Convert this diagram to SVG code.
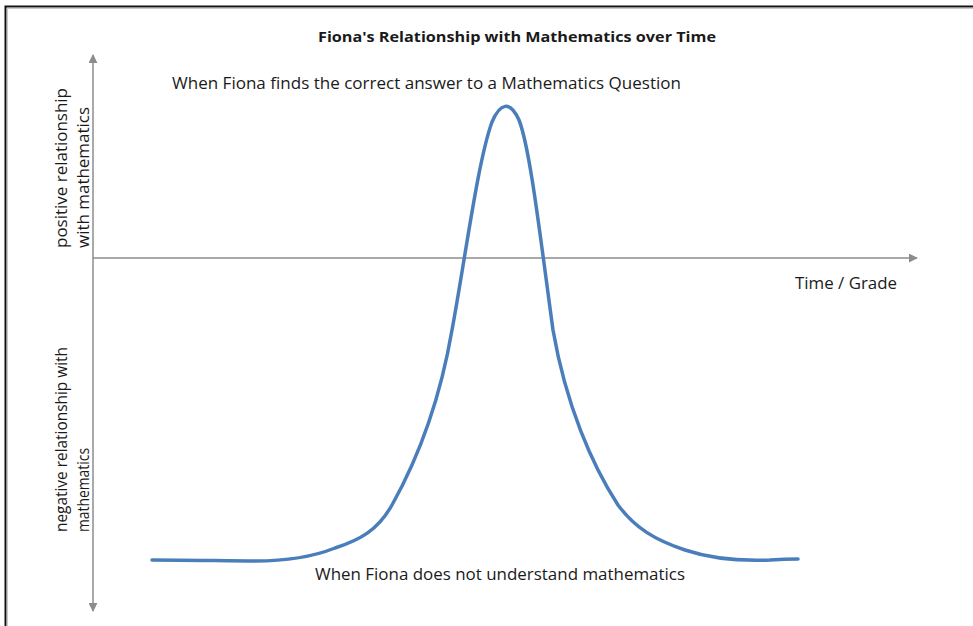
<svg xmlns="http://www.w3.org/2000/svg" width="973" height="626" viewBox="0 0 973 626">
<style>
.t{font-family:"Open Sans","Liberation Sans",sans-serif;fill:#1a1a1a}
.ax{stroke:#8c8c8c;stroke-width:1.5;fill:none}
</style>
<defs>
<marker id="ah" viewBox="0 0 10 10" refX="9" refY="5" markerWidth="9" markerHeight="9" markerUnits="userSpaceOnUse" orient="auto"><path d="M0,0 L10,5 L0,10 Z" fill="#8c8c8c"/></marker>
</defs>
<rect width="973" height="626" fill="#fff"/>
<path d="M973,6.5 H5.5 V626" fill="none" stroke="#111" stroke-width="2"/>
<path d="M973,8.3 H7.3 V626" fill="none" stroke="#bbb" stroke-width="1"/>
<g id="connectors">
<line class="ax" x1="93" y1="258" x2="93" y2="55" marker-end="url(#ah)"/>
<line class="ax" x1="93" y1="258" x2="93" y2="611" marker-end="url(#ah)"/>
<line class="ax" x1="93" y1="258" x2="917" y2="258" marker-end="url(#ah)"/>
</g>
<g id="curve">
<path d="M152,560 C190,560 230,561 255,561 C290,561 315,556 335,548 C360,540 378,530 392,505 C420,455 440,400 452,330 C465,260 478,160 492,122 C500,103 510,100 519,120 C530,148 540,235 553,330 C566,405 592,465 618,505 C635,528 655,540 685,550 C712,559 745,561 770,560 C785,559 795,559 798,559" fill="none" stroke="#4a7ebb" stroke-width="3.5" stroke-linecap="round" stroke-linejoin="round"/>
</g>
<g id="title"><text class="t" x="318" y="42" font-size="14" font-weight="bold" textLength="398" lengthAdjust="spacingAndGlyphs">Fiona's Relationship with Mathematics over Time</text></g>
<g id="label-top"><text class="t" x="172" y="89" font-size="15.5" textLength="509" lengthAdjust="spacingAndGlyphs">When Fiona finds the correct answer to a Mathematics Question</text></g>
<g id="label-bottom"><text class="t" x="315" y="580" font-size="15.5" textLength="370" lengthAdjust="spacingAndGlyphs">When Fiona does not understand mathematics</text></g>
<g id="label-x"><text class="t" x="795" y="289" font-size="15.5" textLength="102" lengthAdjust="spacingAndGlyphs">Time / Grade</text></g>
<g id="label-pos">
<text class="t" transform="translate(67,248) rotate(-90)" font-size="16" textLength="160" lengthAdjust="spacingAndGlyphs">positive relationship</text>
<text class="t" transform="translate(89,248) rotate(-90)" font-size="16" textLength="141" lengthAdjust="spacingAndGlyphs">with mathematics</text>
</g>
<g id="label-neg">
<text class="t" transform="translate(67,532) rotate(-90)" font-size="16" textLength="185" lengthAdjust="spacingAndGlyphs">negative relationship with</text>
<text class="t" transform="translate(89,532) rotate(-90)" font-size="16" textLength="84" lengthAdjust="spacingAndGlyphs">mathematics</text>
</g>
</svg>
